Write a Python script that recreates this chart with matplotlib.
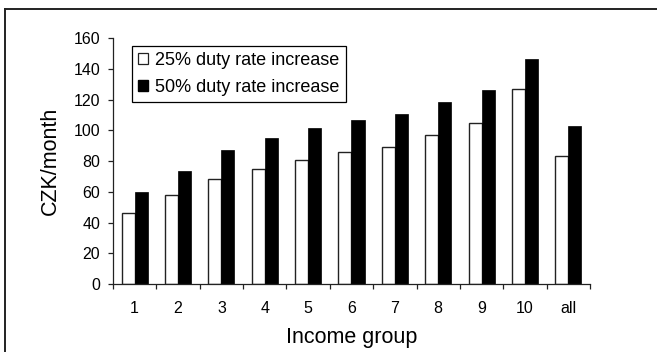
import matplotlib
matplotlib.use("Agg")
import matplotlib.pyplot as plt
import numpy as np
from matplotlib.lines import Line2D
from matplotlib.patches import Patch

plt.rcParams['font.family'] = ['Liberation Sans', 'DejaVu Sans']

groups = ['1', '2', '3', '4', '5', '6', '7', '8', '9', '10', 'all']
duty_25 = [46, 58, 68.5, 74.5, 80.5, 86, 89, 97, 105, 127, 83]
duty_50 = [60, 73.5, 87, 95, 101.5, 107, 110.5, 118.5, 126, 146.5, 103]
series_labels = ['25% duty rate increase', '50% duty rate increase']

fig = plt.figure(figsize=(6.57, 3.52), dpi=100)
ax = fig.add_axes([0.172, 0.193, 0.726, 0.699])

x = np.arange(len(groups))
w = 0.3
edge = '#222222'
ax.bar(x - w / 2, duty_25, width=w, color='white', edgecolor=edge, linewidth=1.0)
ax.bar(x + w / 2, duty_50, width=w, color='black', edgecolor='black', linewidth=0.5)

ax.set_xlim(-0.5, len(groups) - 0.5)
ax.set_ylim(0, 160)
ax.set_yticks(np.arange(0, 161, 20))

# boundary ticks (major) and centred labels (minor)
ax.set_xticks(np.arange(-0.5, len(groups), 1.0))
ax.set_xticklabels([])
ax.set_xticks(x, minor=True)
ax.set_xticklabels(groups, minor=True)
ax.tick_params(axis='x', which='major', direction='out', length=3.8, width=0.9, color=edge)
ax.tick_params(axis='x', which='minor', length=0, pad=12, labelsize=11.5)
ax.tick_params(axis='y', direction='out', length=3.8, width=0.9, color=edge,
               pad=5.5, labelsize=11.5)

for side in ['top', 'right']:
    ax.spines[side].set_visible(False)
for side in ['left', 'bottom']:
    ax.spines[side].set_color(edge)
    ax.spines[side].set_linewidth(0.9)

ax.set_xlabel('Income group', fontsize=15.5, labelpad=8)
ax.set_ylabel('CZK/month', fontsize=15.5, labelpad=9)

handles = [Patch(facecolor='white', edgecolor=edge, linewidth=0.9),
           Patch(facecolor='black', edgecolor='black')]
leg = ax.legend(handles, series_labels, loc='upper left',
                bbox_to_anchor=(0.039, 0.969), fontsize=13, frameon=True,
                fancybox=False, framealpha=1, edgecolor='black',
                handlelength=0.55, handleheight=0.55, handletextpad=0.4,
                borderpad=0.35, labelspacing=0.55, borderaxespad=0)
leg.get_frame().set_linewidth(0.9)

# outer frame of the original figure (top and left edges visible)
fig.add_artist(Line2D([5 / 657, 1.0], [343 / 352, 343 / 352], transform=fig.transFigure,
                      color='#222222', linewidth=1.4))
fig.add_artist(Line2D([5 / 657, 5 / 657], [0, 343 / 352], transform=fig.transFigure,
                      color='#222222', linewidth=1.4))

fig.savefig('out.png', dpi=100)
